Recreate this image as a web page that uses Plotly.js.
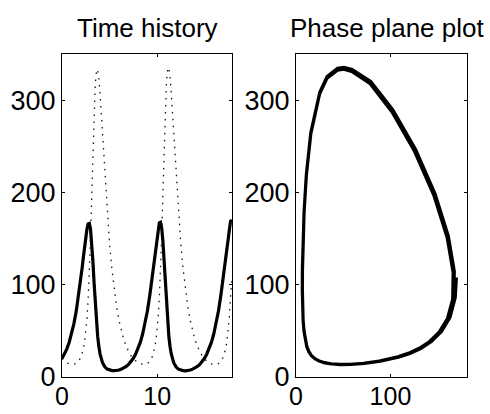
<!DOCTYPE html>
<html>
<head>
<meta charset="utf-8">
<script src="https://cdn.plot.ly/plotly-3.0.1.min.js"></script>
<style>html,body{margin:0;padding:0;background:#fff;}#plot{width:490px;height:414px;}</style>
</head>
<body>
<div id="plot"></div>
<script>
// Time
const time = [
  0, 0.25, 0.5, 0.75, 1, 1.25, 1.5, 1.75, 2, 2.125, 2.25, 2.375, 2.5, 2.625, 2.75, 2.875, 3, 3.125, 3.25, 3.375, 3.5, 3.625, 3.69, 3.75, 3.875, 4, 4.25, 4.5, 4.75, 5, 5.25, 5.5, 5.75, 6, 6.25, 6.5, 6.75, 7, 7.25,
  7.48, 7.73, 7.98, 8.23, 8.48, 8.73, 8.98, 9.23, 9.48, 9.605, 9.73, 9.855, 9.98, 10.105, 10.23, 10.355, 10.48, 10.605, 10.73, 10.855, 10.98, 11.105, 11.17, 11.23, 11.355, 11.48, 11.73, 11.98, 12.23, 12.48, 12.73, 12.98, 13.23, 13.48, 13.73, 13.98, 14.23, 14.48, 14.73,
  14.96, 15.21, 15.46, 15.71, 15.96, 16.21, 16.46, 16.71, 16.96, 17.085, 17.21, 17.335, 17.46, 17.585, 17.71, 17.835, 17.87
];
// Prey population (solid line)
const prey = [
  20, 24.5, 30.2, 37.4, 46.4, 57.6, 71.4, 88.1, 107.9, 118.8, 130, 141.2, 151.6, 160.4, 165.9, 166.4, 160.1, 146.2, 125.6, 101.7, 78.6, 59, 50.5, 43.9, 32.9, 25.1, 15.7, 11, 8.6, 7.4, 6.9, 6.8, 7.05, 7.6, 8.6, 9.8, 11.5, 13.7, 16.5,
  20, 24.6, 30.3, 37.5, 46.6, 57.9, 71.8, 88.6, 108.5, 119.5, 130.8, 142, 152.6, 161.4, 167, 167.6, 161.2, 147.2, 126.5, 102.4, 79.1, 59.4, 50.8, 44.1, 33, 25.2, 15.7, 11, 8.6, 7.3, 6.8, 6.7, 7, 7.6, 8.5, 9.7, 11.4, 13.6, 16.4,
  20, 24.7, 30.5, 37.7, 46.9, 58.3, 72.3, 89.3, 109.4, 120.5, 132, 143.3, 154, 163, 168.6, 169.6, 169.8
];
// Predator population (dotted line)
const predator = [
  20, 17.4, 15.5, 14.3, 13.7, 13.8, 14.8, 17.2, 21.8, 25.6, 30.8, 38.2, 48.6, 63.4, 84.3, 113.1, 150.9, 196.2, 244.3, 287.2, 317.8, 331, 333.5, 332.5, 323.8, 306.9, 263.3, 218.5, 178.4, 144.5, 116.5, 93.8, 75.6, 61, 49.5, 40.3, 33.1, 27.5, 23.1,
  20, 17.3, 15.4, 14.2, 13.6, 13.7, 14.7, 17.1, 21.8, 25.6, 30.9, 38.4, 49, 64, 85.2, 114.5, 152.8, 198.5, 246.8, 289.8, 320.2, 333.2, 335.5, 334.4, 325.5, 308.4, 264.6, 219.6, 179.3, 145.2, 117, 94.2, 75.9, 61.2, 49.6, 40.4, 33.1, 27.4, 23,
  19.8, 17.2, 15.3, 14.1, 13.5, 13.6, 14.6, 17, 21.7, 25.5, 30.9, 38.5, 49.3, 64.6, 86.2, 100, 108
];
const xTicksLeft = [0, 10];
const xTicksRight = [0, 100];
const yTicks = [0, 100, 200, 300];
const titles = ["Time history", "Phase plane plot"];

const FONT = "Liberation Sans, Arial, Helvetica, sans-serif";
const traces = [
  {x: time, y: prey, type: "scatter", mode: "lines", xaxis: "x", yaxis: "y",
   line: {color: "#000", width: 3.2}, hoverinfo: "skip"},
  {x: time, y: predator, type: "scatter", mode: "lines", xaxis: "x", yaxis: "y",
   line: {color: "#111", width: 1.3, dash: "1.5px,5.5px"}, hoverinfo: "skip"},
  {x: prey, y: predator, type: "scatter", mode: "lines", xaxis: "x2", yaxis: "y2",
   line: {color: "#000", width: 3.2}, hoverinfo: "skip"}
];
function ax(extra) {
  return Object.assign({
    showgrid: false, zeroline: false, showline: true, linecolor: "#000", linewidth: 1,
    mirror: "ticks", ticks: "inside", ticklen: 3, tickcolor: "#000", tickwidth: 1,
    tickmode: "array", tickfont: {family: FONT, size: 27, color: "#000"}
  }, extra);
}
const xFont = {family: FONT, size: 25, color: "#000"};
const yDom = [0.0894, 0.8696];
const layout = {
  width: 490, height: 414, showlegend: false,
  paper_bgcolor: "#fff", plot_bgcolor: "#fff",
  margin: {l: 0, r: 0, t: 0, b: 0, pad: 0},
  xaxis: ax({domain: [0.1265, 0.4735], range: [0, 17.87], tickvals: xTicksLeft, anchor: "y", ticklabelstandoff: -3, tickfont: xFont}),
  yaxis: ax({domain: yDom, range: [0, 350], tickvals: yTicks, anchor: "x", ticklabelstandoff: 0}),
  xaxis2: ax({domain: [0.604, 0.953], range: [0, 181], tickvals: xTicksRight, anchor: "y2", ticklabelstandoff: -3, tickfont: xFont}),
  yaxis2: ax({domain: yDom, range: [0, 350], tickvals: yTicks, anchor: "x2", ticklabelstandoff: 0}),
  annotations: [
    {text: titles[0], xref: "paper", yref: "paper", x: 0.30, y: 0.932, xanchor: "center", yanchor: "middle",
     showarrow: false, font: {family: FONT, size: 26, color: "#000"}},
    {text: titles[1], xref: "paper", yref: "paper", x: 0.79, y: 0.932, xanchor: "center", yanchor: "middle",
     showarrow: false, font: {family: FONT, size: 26, color: "#000"}}
  ]
};
Plotly.newPlot("plot", traces, layout, {staticPlot: true, displayModeBar: false});
</script>
</body>
</html>
